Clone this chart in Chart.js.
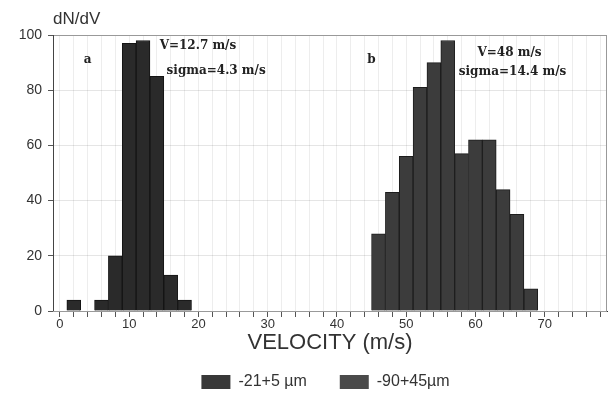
<!DOCTYPE html>
<html>
<head>
<meta charset="utf-8">
<script src="https://cdn.jsdelivr.net/npm/chart.js@4"></script>
<style>
  html, body { margin: 0; padding: 0; background: #fff; }
  #wrap { width: 613px; height: 397px; }
</style>
</head>
<body>
<div id="wrap"><canvas id="chart" width="613" height="397"></canvas></div>
<script>
// velocity bins (m/s), 2 m/s wide, centred on even values
const velocityBins = [0, 2, 4, 6, 8, 10, 12, 14, 16, 18, 20, 22, 24, 26, 28, 30, 32, 34, 36, 38,
                      40, 42, 44, 46, 48, 50, 52, 54, 56, 58, 60, 62, 64, 66, 68, 70, 72, 74, 76, 78];

// dN/dV — fine powder (a)
const fineCounts = [null, 4, null, 4, 20, 97, 98, 85, 13, 4, null, null, null, null, null, null, null, null, null, null,
                    null, null, null, null, null, null, null, null, null, null, null, null, null, null, null, null, null, null, null, null];

// dN/dV — coarse powder (b)
const coarseCounts = [null, null, null, null, null, null, null, null, null, null, null, null, null, null, null, null, null, null, null, null,
                      null, null, null, 28, 43, 56, 81, 90, 98, 57, 62, 62, 44, 35, 8, null, null, null, null, null];

const seriesNames = ['-21+5 \u00b5m', '-90+45\u00b5m'];
const yTicks = [0, 20, 40, 60, 80, 100];
const xLabelEvery = 10;

// text notes in data units (velocity, dN/dV)
const notes = [
  { text: 'a', v: 4, n: 91, align: 'center' },
  { text: 'V=12.7 m/s', v: 14.4, n: 96, align: 'left' },
  { text: 'sigma=4.3 m/s', v: 15.4, n: 87, align: 'left' },
  { text: 'b', v: 45, n: 91, align: 'center' },
  { text: 'V=48 m/s', v: 60.3, n: 93.5, align: 'left' },
  { text: 'sigma=14.4 m/s', v: 57.6, n: 86.6, align: 'left' },
];

const SANS = "'Liberation Sans', Arial, sans-serif";
const INK = '#333';

// frame, y title and the a/b notes; legend nudged right like the original
const decorations = {
  id: 'decorations',
  afterLayout(chart) {
    if (chart.legend) chart.legend.left += 44;
  },
  afterDatasetsDraw(chart) {
    const { ctx, chartArea: a, scales } = chart;
    ctx.save();
    ctx.strokeStyle = '#999';
    ctx.lineWidth = 1;
    ctx.strokeRect(a.left + 0.5, a.top + 0.5, a.right - a.left - 1, a.bottom - a.top);
    ctx.strokeStyle = '#444';
    ctx.beginPath();
    ctx.moveTo(a.left + 0.5, a.top);
    ctx.lineTo(a.left + 0.5, a.bottom);
    ctx.stroke();

    ctx.fillStyle = INK;
    ctx.font = '17px ' + SANS;
    ctx.textAlign = 'left';
    ctx.textBaseline = 'middle';
    ctx.fillText('dN/dV', 53, 19);

    ctx.font = "bold 12px 'DejaVu Serif', serif";
    ctx.fillStyle = '#222';
    notes.forEach(o => {
      const px = scales.x.getPixelForValue(o.v / 2);
      const py = scales.y.getPixelForValue(o.n);
      ctx.textAlign = o.align;
      ctx.fillText(o.text, px, py);
    });
    ctx.restore();
  },
};

new Chart(document.getElementById('chart'), {
  type: 'bar',
  data: {
    labels: velocityBins,
    datasets: [
      {
        label: seriesNames[0],
        data: fineCounts,
        backgroundColor: '#2a2a2a',
        borderColor: '#141414',
        borderWidth: 1,
        barPercentage: 1,
        categoryPercentage: 1,
        grouped: false,
      },
      {
        label: seriesNames[1],
        data: coarseCounts,
        backgroundColor: '#3c3c3c',
        borderColor: '#1c1c1c',
        borderWidth: 1,
        barPercentage: 1,
        categoryPercentage: 1,
        grouped: false,
      },
    ],
  },
  options: {
    responsive: false,
    animation: false,
    layout: { padding: { top: 35, right: 6, left: 0, bottom: -3 } },
    plugins: {
      legend: {
        position: 'bottom',
        labels: {
          color: INK,
          font: { size: 16, family: SANS },
          boxWidth: 29,
          boxHeight: 14,
          padding: 33,
          generateLabels: chart => chart.data.datasets.map((d, i) => ({
            text: d.label,
            fillStyle: i === 0 ? '#383838' : '#4a4a4a',
            strokeStyle: i === 0 ? '#383838' : '#4a4a4a',
            lineWidth: 0,
            datasetIndex: i,
            fontColor: INK,
          })),
        },
      },
      tooltip: { enabled: false },
    },
    scales: {
      x: {
        type: 'category',
        ticks: {
          color: INK,
          font: { size: 13, family: SANS },
          autoSkip: false,
          maxRotation: 0,
          padding: 0,
          callback: (val, i) => velocityBins[i] % xLabelEvery === 0 ? velocityBins[i] : '',
        },
        grid: {
          offset: false,
          color: 'rgba(0,0,0,0.07)',
          tickColor: '#555',
          tickLength: 6,
        },
        border: { color: '#333', width: 1 },
        title: {
          display: true,
          text: 'VELOCITY (m/s)',
          color: INK,
          font: { size: 22, family: SANS },
          padding: { top: -3, bottom: -15 },
        },
      },
      y: {
        min: 0,
        max: 100,
        afterFit: s => { s.width = 53; },
        afterBuildTicks: s => { s.ticks = yTicks.map(v => ({ value: v })); },
        ticks: {
          color: INK,
          font: { size: 14, family: SANS },
          padding: 6,
        },
        grid: {
          color: 'rgba(0,0,0,0.10)',
          tickColor: '#555',
          tickLength: 5,
        },
        border: { display: false },
      },
    },
  },
  plugins: [decorations],
});
</script>
</body>
</html>
